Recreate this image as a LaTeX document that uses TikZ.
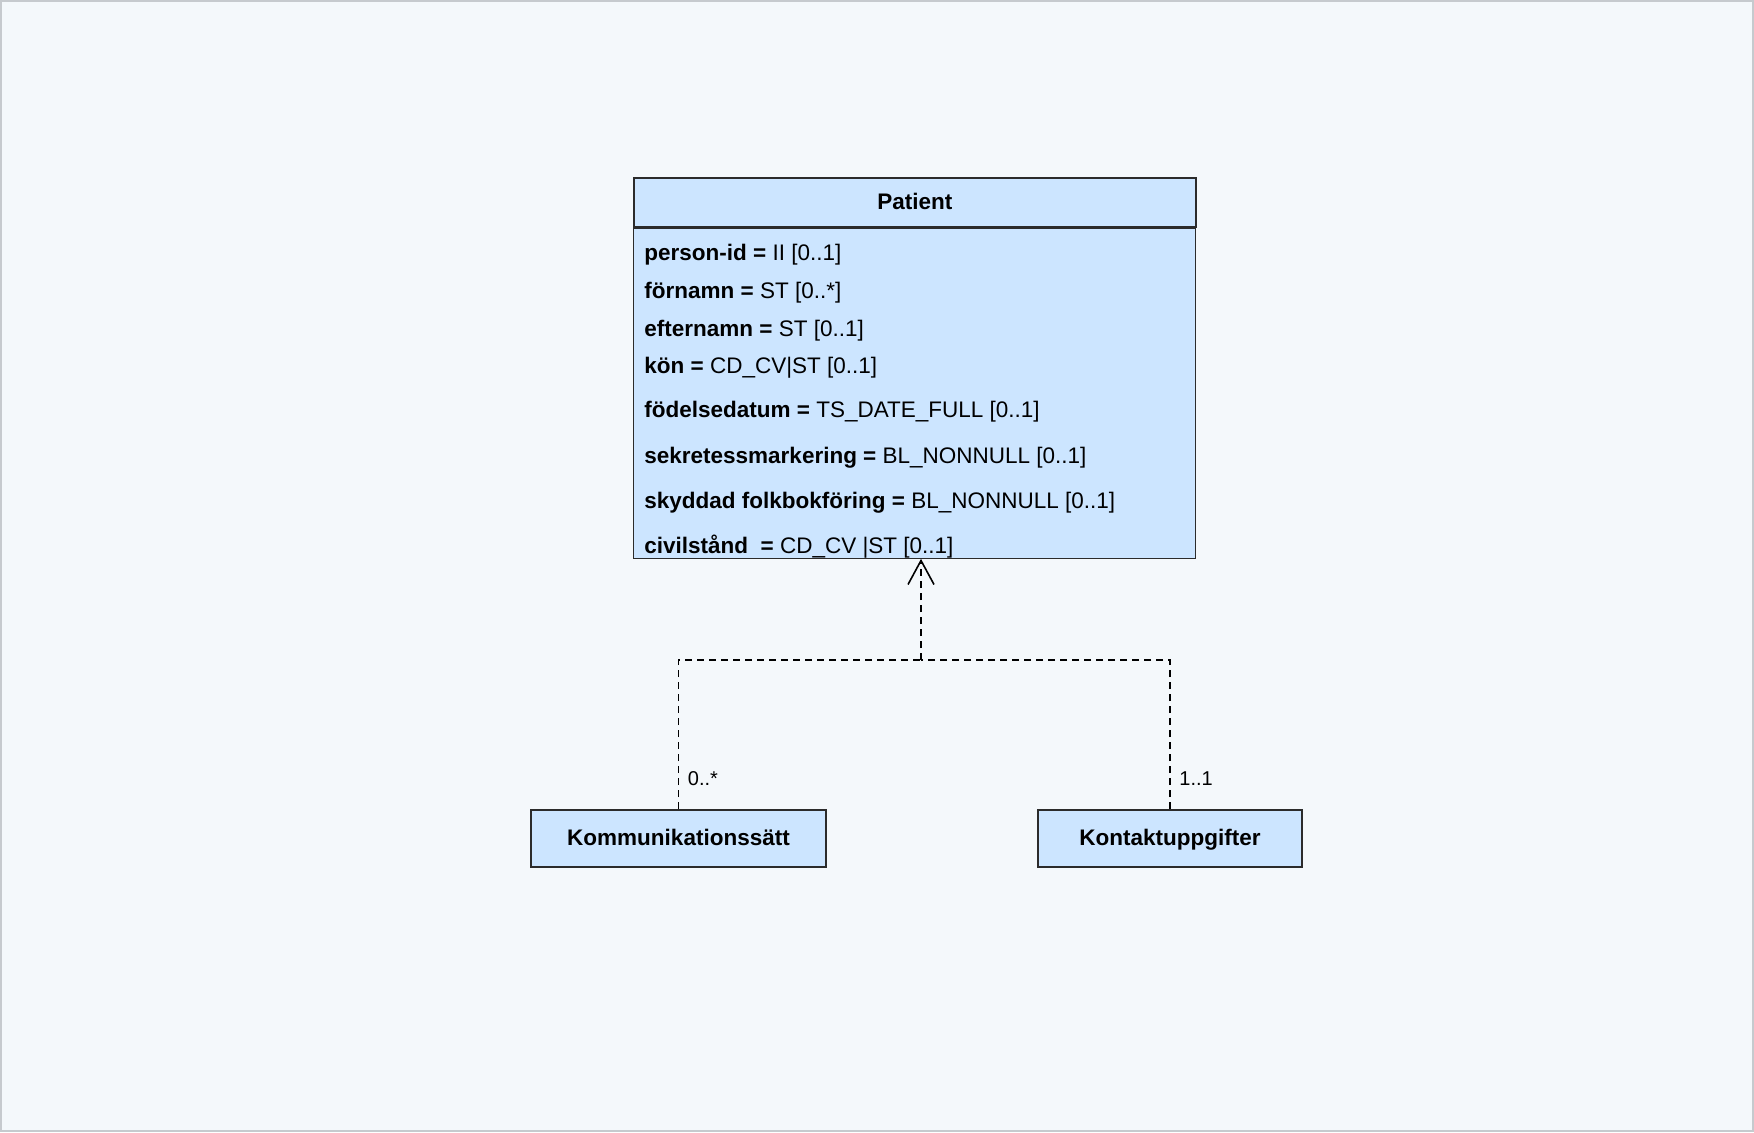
\documentclass[tikz,border=0pt]{standalone}
\usepackage{fontspec}
\setmainfont{Liberation Sans}
\usepackage{xcolor}
\usetikzlibrary{arrows.meta, calc, positioning}

\definecolor{pagebg}{HTML}{F4F8FB}
\definecolor{pageframe}{HTML}{C6CACE}
\definecolor{classfill}{HTML}{CCE5FF}
\definecolor{classline}{HTML}{2B2B2B}

\tikzset{
    classbox/.style={draw=classline, fill=classfill, line width=0.8pt, inner sep=0pt,
        text height=0.72em, text depth=0pt,
        font=\bfseries\fontsize{11.25}{13}\selectfont},
    attr/.style={anchor=base west, inner sep=0pt, font=\fontsize{11.25}{13}\selectfont},
    dep/.style={draw=black, line width=0.85pt, dash pattern=on 3.5pt off 2.5pt},
    mult/.style={anchor=base west, inner sep=0pt, font=\fontsize{10}{12}\selectfont}
}

\begin{document}
\begin{tikzpicture}[x=0.5pt, y=-0.5pt]
    % Page with its thin frame
    \useasboundingbox (0,0) rectangle (1754,1132);
    \draw[fill=pagebg, draw=pageframe, line width=1pt] (1,1) rectangle (1753,1131);

    % Patient class: name compartment and attribute compartment
    \node[classbox, anchor=north west, minimum width=281pt, minimum height=24.5pt] (patient) at (633,177) {Patient};
    \node[classbox, anchor=north west, minimum width=281pt, minimum height=165pt, line width=0.6pt] (patientattr) at (patient.south west) {};

    % Attributes of the Patient class
    \node[attr] (attrpid)   at (644,260) {\textbf{person-id =} II [0..1]};
    \node[attr] (attrfname) at (644,298) {\textbf{förnamn =} ST [0..*]};
    \node[attr] (attrlname) at (644,336) {\textbf{efternamn =} ST [0..1]};
    \node[attr] (attrsex)   at (644,373) {\textbf{kön =} CD\_CV|ST [0..1]};
    \node[attr] (attrbirth) at (644,417) {\textbf{födelsedatum =} TS\_DATE\_FULL [0..1]};
    \node[attr] (attrsecr)  at (644,463) {\textbf{sekretessmarkering =} BL\_NONNULL [0..1]};
    \node[attr] (attrprot)  at (644,508) {\textbf{skyddad folkbokföring =} BL\_NONNULL [0..1]};
    \node[attr] (attrcivil) at (644,553) {\textbf{civilstånd\ \ =} CD\_CV |ST [0..1]};

    % Dependent classes
    \node[classbox, minimum width=147.5pt, minimum height=28.5pt] (kom) at (678.5,838.5) {Kommunikationssätt};
    \node[classbox, minimum width=132pt, minimum height=28.5pt] (kon) at (1170,838.5) {Kontaktuppgifter};

    % Dashed dependencies joined below Patient
    \coordinate (junction) at (921,660);
    \draw[dep] (kom.north) |- (junction);
    \draw[dep] (kon.north) |- (junction);
    \draw[dep, -{Straight Barb[length=12pt, width=13pt, line width=0.8pt]}] (junction) -- (junction |- patientattr.south);

    % Multiplicities
    \node[mult] (komcard) at ($(kom.north)+(9,-24)$) {0..*};
    \node[mult] (koncard) at ($(kon.north)+(9,-24)$) {1..1};
\end{tikzpicture}
\end{document}
